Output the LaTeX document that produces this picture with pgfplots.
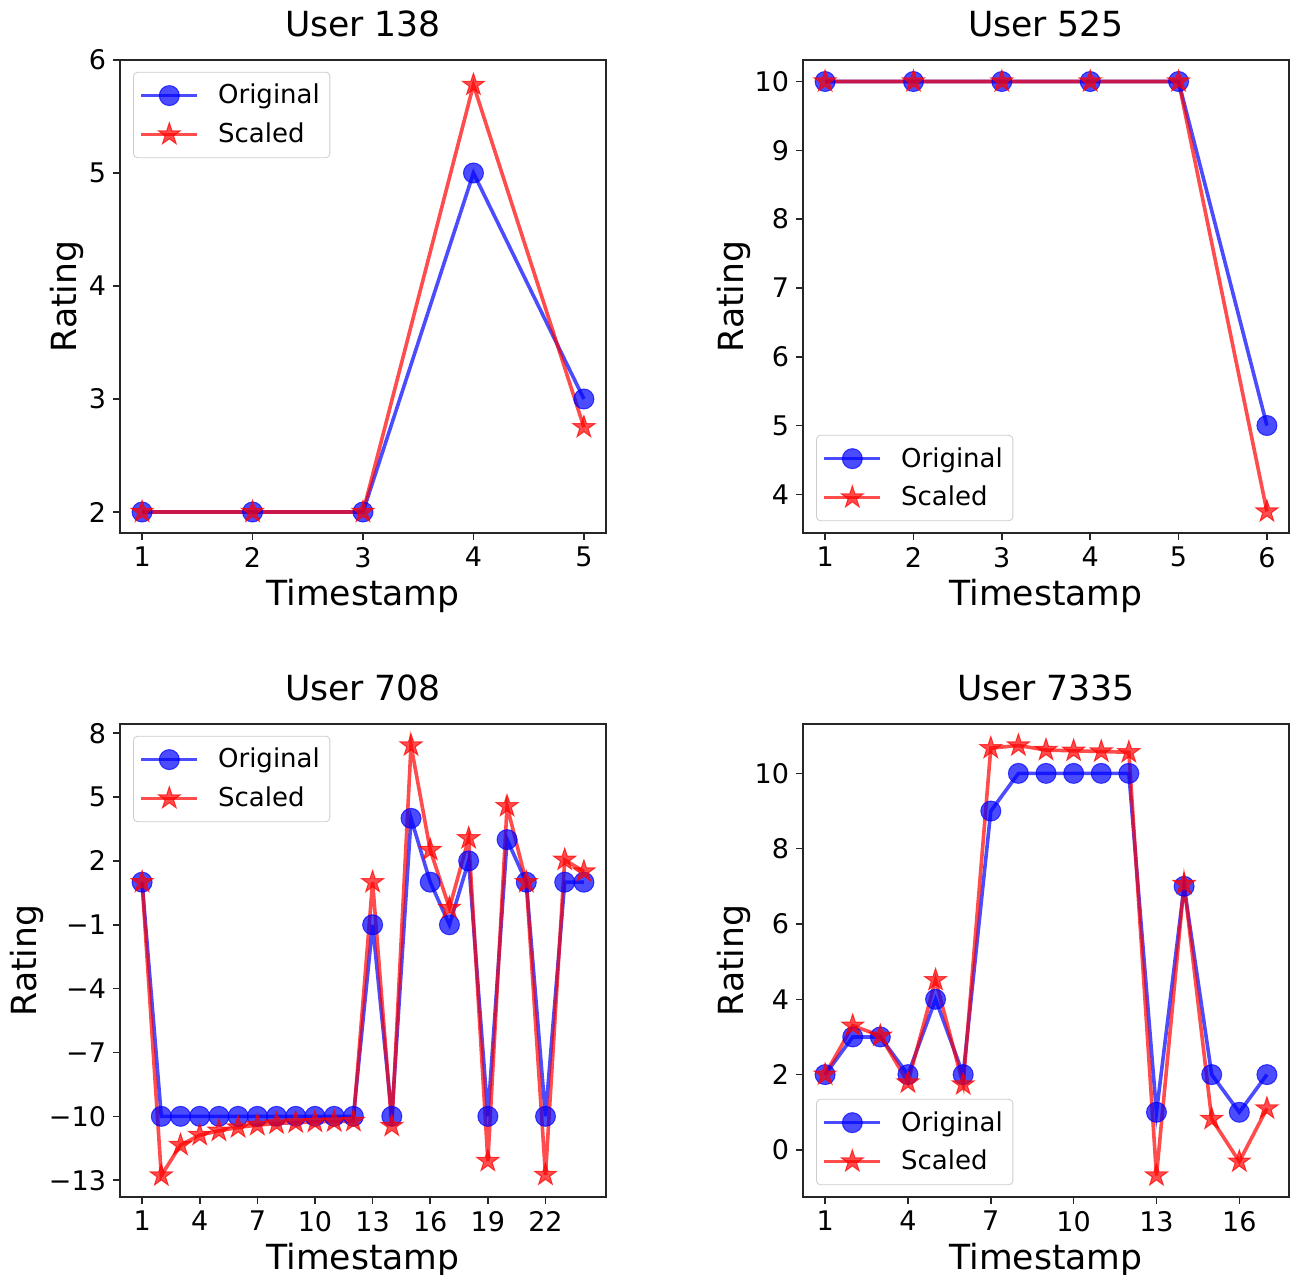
\documentclass[border=0pt]{standalone}
\usepackage{fontspec}
\setmainfont{DejaVu Sans}
\usepackage{pgfplots}
\pgfplotsset{compat=1.18}
\pgfdeclareplotmark{fstar}{%
  \pgfpathmoveto{\pgfpointpolar{90}{\pgfplotmarksize}}%
  \pgfpathlineto{\pgfpointpolar{126}{0.382\pgfplotmarksize}}%
  \pgfpathlineto{\pgfpointpolar{162}{\pgfplotmarksize}}%
  \pgfpathlineto{\pgfpointpolar{198}{0.382\pgfplotmarksize}}%
  \pgfpathlineto{\pgfpointpolar{234}{\pgfplotmarksize}}%
  \pgfpathlineto{\pgfpointpolar{270}{0.382\pgfplotmarksize}}%
  \pgfpathlineto{\pgfpointpolar{306}{\pgfplotmarksize}}%
  \pgfpathlineto{\pgfpointpolar{342}{0.382\pgfplotmarksize}}%
  \pgfpathlineto{\pgfpointpolar{18}{\pgfplotmarksize}}%
  \pgfpathlineto{\pgfpointpolar{54}{0.382\pgfplotmarksize}}%
  \pgfpathclose
  \pgfusepathqfillstroke
}
\pgfplotsset{
  myax/.style={
    scale only axis, width=243pt, height=236.5pt,
    tick pos=left, tick align=outside, major tick length=3.5pt,
    tick style={black!85, line width=0.8pt},
    axis line style={black!85, line width=0.8pt},
    tick label style={font=\fontsize{13.5}{16}\selectfont},
    /pgf/number format/assume math mode=true,
    label style={font=\fontsize{17.3}{20}\selectfont},
    title style={font=\fontsize{17.3}{20}\selectfont, at={(axis description cs:0.5,1.0233)}, anchor=base},
    xlabel style={at={(axis description cs:0.5,-0.1522)}, anchor=base},
    xlabel={Timestamp}, ylabel={Rating},
    legend cell align=left,
    legend style={draw=black!20, rounded corners=2pt, fill=white,
      font=\fontsize{13}{15}\selectfont, inner xsep=3pt, inner ysep=4pt,
      row sep=4pt, column sep=7.5pt},
    legend image code/.code={\draw[mark repeat=2,mark phase=2] plot coordinates {(0pt,0pt) (14pt,0pt) (28pt,0pt)};},
  },
  orig/.style={blue, opacity=0.7, line width=1.8pt, mark=*, mark size=5pt,
    mark options={line width=0.5pt, fill=blue, draw=blue, solid}},
  scal/.style={red, opacity=0.7, line width=1.8pt, mark=fstar, mark size=5.8pt,
    mark options={line width=0.5pt, fill=red, draw=red, solid}},
  legTL/.style={legend style={at={(axis description cs:0.027,0.975)}, anchor=north west}},
  legBL/.style={legend style={at={(axis description cs:0.027,0.025)}, anchor=south west}},
}
\begin{document}
\begin{tikzpicture}
% Top-left: User 138
\begin{axis}[myax, legTL, at={(60pt,-266.5pt)}, anchor=south west,
  title={User 138}, xmin=0.8, xmax=5.2, ymin=1.814, ymax=6,
  xtick={1,2,3,4,5}, ytick={2,3,4,5,6},
  ylabel style={at={(axis description cs:-0.0893,0.5)}, anchor=base}]
\addplot[orig] coordinates {(1,2) (2,2) (3,2) (4,5) (5,3)};
\addlegendentry{Original}
\addplot[scal] coordinates {(1,2) (2,2) (3,2) (4,5.78) (5,2.75)};
\addlegendentry{Scaled}
\end{axis}
% Top-right: User 525
\begin{axis}[myax, legBL, at={(401.5pt,-266.5pt)}, anchor=south west,
  title={User 525}, xmin=0.75, xmax=6.25, ymin=3.4375, ymax=10.3125,
  xtick={1,2,3,4,5,6}, ytick={4,5,6,7,8,9,10},
  ylabel style={at={(axis description cs:-0.123,0.5)}, anchor=base}]
\addplot[orig] coordinates {(1,10) (2,10) (3,10) (4,10) (5,10) (6,5)};
\addlegendentry{Original}
\addplot[scal] coordinates {(1,10) (2,10) (3,10) (4,10) (5,10) (6,3.75)};
\addlegendentry{Scaled}
\end{axis}
% Bottom-left: User 708
\begin{axis}[myax, legTL, at={(60pt,-598.5pt)}, anchor=south west,
  title={User 708}, xmin=-0.15, xmax=25.15, ymin=-13.79, ymax=8.43,
  xtick={1,4,7,10,13,16,19,22}, ytick={-13,-10,-7,-4,-1,2,5,8},
  yticklabels={−13,−10,−7,−4,−1,2,5,8},
  ylabel style={at={(axis description cs:-0.1708,0.5)}, anchor=base}]
\addplot[orig] coordinates {(1,1) (2,-10) (3,-10) (4,-10) (5,-10) (6,-10) (7,-10) (8,-10) (9,-10) (10,-10) (11,-10) (12,-10) (13,-1) (14,-10) (15,4) (16,1) (17,-1) (18,2) (19,-10) (20,3) (21,1) (22,-10) (23,1) (24,1)};
\addlegendentry{Original}
\addplot[scal] coordinates {(1,1) (2,-12.78) (3,-11.35) (4,-10.88) (5,-10.68) (6,-10.52) (7,-10.41) (8,-10.34) (9,-10.29) (10,-10.26) (11,-10.24) (12,-10.22) (13,1) (14,-10.45) (15,7.42) (16,2.51) (17,-0.21) (18,3.06) (19,-12.1) (20,4.57) (21,1) (22,-12.75) (23,2.05) (24,1.5)};
\addlegendentry{Scaled}
\end{axis}
% Bottom-right: User 7335
\begin{axis}[myax, legBL, at={(401.5pt,-598.5pt)}, anchor=south west,
  title={User 7335}, xmin=0.2, xmax=17.8, ymin=-1.251, ymax=11.311,
  xtick={1,4,7,10,13,16}, ytick={0,2,4,6,8,10},
  ylabel style={at={(axis description cs:-0.123,0.5)}, anchor=base}]
\addplot[orig] coordinates {(1,2) (2,3) (3,3) (4,2) (5,4) (6,2) (7,9) (8,10) (9,10) (10,10) (11,10) (12,10) (13,1) (14,7) (15,2) (16,1) (17,2)};
\addlegendentry{Original}
\addplot[scal] coordinates {(1,2) (2,3.3) (3,3.03) (4,1.79) (5,4.51) (6,1.74) (7,10.67) (8,10.74) (9,10.62) (10,10.6) (11,10.58) (12,10.56) (13,-0.68) (14,7.06) (15,0.82) (16,-0.31) (17,1.1)};
\addlegendentry{Scaled}
\end{axis}
\pgfresetboundingbox
\path[use as bounding box] (0,0) rectangle (646.5pt,-637pt);
\end{tikzpicture}
\end{document}
